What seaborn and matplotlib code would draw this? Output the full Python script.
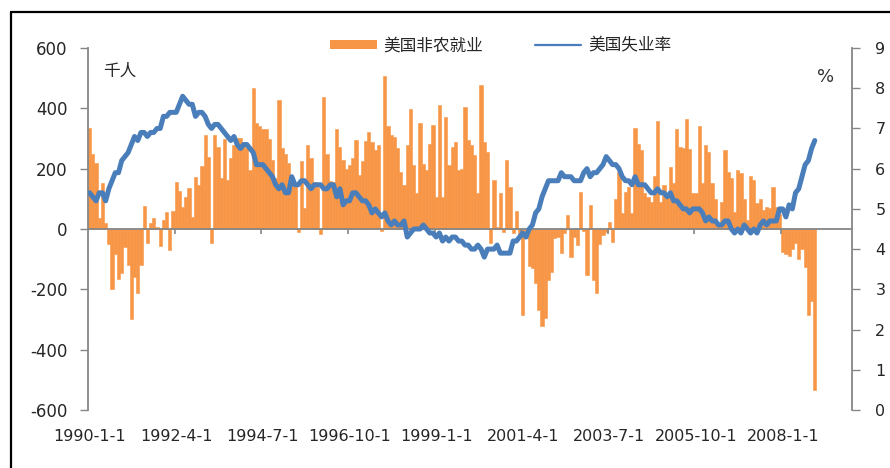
import numpy as np
import pandas as pd
import matplotlib
matplotlib.use('Agg')
import matplotlib.pyplot as plt
import seaborn as sns
from matplotlib.lines import Line2D
from matplotlib.patches import Patch

# 美国非农就业 (千人), monthly change, 1990-01 .. 2008-11
payroll_1990 = [335, 250, 218, 36, 152, 20, -50, -200, -83, -165, -145, -60]
payroll_1991 = [-120, -298, -158, -212, -120, 77, -47, 20, 35, 8, -58, 30]
payroll_1992 = [55, -70, 60, 157, 127, 73, 105, 135, 40, 173, 146, 210]
payroll_1993 = [313, 238, -45, 311, 272, 168, 300, 164, 237, 278, 303, 303]
payroll_1994 = [290, 267, 195, 469, 352, 341, 330, 330, 300, 228, 168, 427]
payroll_1995 = [267, 250, 220, 162, 150, -10, 226, 68, 278, 234, 157, 140]
payroll_1996 = [-17, 437, 250, 160, 157, 330, 272, 228, 200, 212, 234, 295]
payroll_1997 = [179, 226, 292, 322, 289, 261, 278, -5, 506, 341, 311, 305]
payroll_1998 = [267, 190, 146, 278, 399, 212, 118, 352, 217, 195, 283, 344]
payroll_1999 = [107, 410, 107, 372, 212, 272, 289, 195, 200, 405, 295, 278]
payroll_2000 = [245, 118, 477, 289, 256, -47, 162, 5, 120, -9, 230, 140]
payroll_2001 = [-14, 60, -20, -285, -31, -124, -130, -180, -268, -323, -296, -168]
payroll_2002 = [-141, -30, -25, -80, -14, 46, -92, -25, -53, 122, -5, -152]
payroll_2003 = [79, -169, -213, -50, -20, -10, 24, -42, 99, 188, 52, 124]
payroll_2004 = [138, 52, 336, 283, 261, 120, 107, 90, 175, 358, 90, 146]
payroll_2005 = [112, 206, 151, 333, 272, 267, 366, 266, 118, 120, 340, 151]
payroll_2006 = [278, 256, 151, 100, 20, 90, 261, 190, 168, 57, 197, 184]
payroll_2007 = [101, 30, 175, 162, 85, 101, 63, 74, 68, 140, 74, 50]
payroll_2008 = [-76, -83, -88, -67, -47, -100, -67, -127, -284, -240, -533]

# 美国失业率 (%)
unemp_1990 = [5.4, 5.3, 5.2, 5.4, 5.4, 5.2, 5.5, 5.7, 5.9, 5.9, 6.2, 6.3]
unemp_1991 = [6.4, 6.6, 6.8, 6.7, 6.9, 6.9, 6.8, 6.9, 6.9, 7.0, 7.0, 7.3]
unemp_1992 = [7.3, 7.4, 7.4, 7.4, 7.6, 7.8, 7.7, 7.6, 7.6, 7.3, 7.4, 7.4]
unemp_1993 = [7.3, 7.1, 7.0, 7.1, 7.1, 7.0, 6.9, 6.8, 6.7, 6.8, 6.6, 6.5]
unemp_1994 = [6.6, 6.6, 6.5, 6.4, 6.1, 6.1, 6.1, 6.0, 5.9, 5.8, 5.6, 5.5]
unemp_1995 = [5.6, 5.4, 5.4, 5.8, 5.6, 5.6, 5.7, 5.7, 5.6, 5.5, 5.6, 5.6]
unemp_1996 = [5.6, 5.5, 5.5, 5.6, 5.6, 5.3, 5.5, 5.1, 5.2, 5.2, 5.4, 5.4]
unemp_1997 = [5.3, 5.2, 5.2, 5.1, 4.9, 5.0, 4.9, 4.8, 4.9, 4.7, 4.6, 4.7]
unemp_1998 = [4.6, 4.6, 4.7, 4.3, 4.4, 4.5, 4.5, 4.5, 4.6, 4.5, 4.4, 4.4]
unemp_1999 = [4.3, 4.4, 4.2, 4.3, 4.2, 4.3, 4.3, 4.2, 4.2, 4.1, 4.1, 4.0]
unemp_2000 = [4.0, 4.1, 4.0, 3.8, 4.0, 4.0, 4.0, 4.1, 3.9, 3.9, 3.9, 3.9]
unemp_2001 = [4.2, 4.2, 4.3, 4.4, 4.3, 4.5, 4.6, 4.9, 5.0, 5.3, 5.5, 5.7]
unemp_2002 = [5.7, 5.7, 5.7, 5.9, 5.8, 5.8, 5.8, 5.7, 5.7, 5.7, 5.9, 6.0]
unemp_2003 = [5.8, 5.9, 5.9, 6.0, 6.1, 6.3, 6.2, 6.1, 6.1, 6.0, 5.8, 5.7]
unemp_2004 = [5.7, 5.6, 5.8, 5.6, 5.6, 5.6, 5.5, 5.4, 5.4, 5.5, 5.4, 5.4]
unemp_2005 = [5.3, 5.4, 5.2, 5.2, 5.1, 5.0, 5.0, 4.9, 5.0, 5.0, 5.0, 4.9]
unemp_2006 = [4.7, 4.8, 4.7, 4.7, 4.6, 4.6, 4.7, 4.7, 4.5, 4.4, 4.5, 4.4]
unemp_2007 = [4.6, 4.5, 4.4, 4.5, 4.4, 4.6, 4.7, 4.6, 4.7, 4.7, 4.7, 5.0]
unemp_2008 = [5.0, 4.8, 5.1, 5.0, 5.4, 5.5, 5.8, 6.1, 6.2, 6.5, 6.7]

tick_labels = ['1990-1-1', '1992-4-1', '1994-7-1', '1996-10-1', '1999-1-1',
               '2001-4-1', '2003-7-1', '2005-10-1', '2008-1-1']
tick_step = 27
legend_labels = ['美国非农就业', '美国失业率']

payroll = (payroll_1990 + payroll_1991 + payroll_1992 + payroll_1993 + payroll_1994 +
           payroll_1995 + payroll_1996 + payroll_1997 + payroll_1998 + payroll_1999 +
           payroll_2000 + payroll_2001 + payroll_2002 + payroll_2003 + payroll_2004 +
           payroll_2005 + payroll_2006 + payroll_2007 + payroll_2008)
unemp = (unemp_1990 + unemp_1991 + unemp_1992 + unemp_1993 + unemp_1994 +
         unemp_1995 + unemp_1996 + unemp_1997 + unemp_1998 + unemp_1999 +
         unemp_2000 + unemp_2001 + unemp_2002 + unemp_2003 + unemp_2004 +
         unemp_2005 + unemp_2006 + unemp_2007 + unemp_2008)

df = pd.DataFrame({'month': np.arange(len(payroll)), 'payroll': payroll, 'unemp': unemp})

ORANGE = '#F79646'
BLUE = '#4A7EBB'
GREY = '#868686'
CJK = ['Noto Sans CJK SC', 'DejaVu Sans']

sns.set_style('white')
plt.rcParams['font.family'] = ['DejaVu Sans', 'Noto Sans CJK SC']
plt.rcParams['axes.unicode_minus'] = False

W, H = 890, 468
fig = plt.figure(figsize=(W / 100, H / 100), dpi=100)
ax = fig.add_axes([88 / W, 1 - 410 / H, (852 - 88) / W, (410 - 48) / H])

sns.barplot(data=df, x='month', y='payroll', color=ORANGE, saturation=1,
            width=1.0, errorbar=None, edgecolor=ORANGE, linewidth=0.4, ax=ax)
ax2 = ax.twinx()
sns.lineplot(data=df, x='month', y='unemp', color=BLUE, lw=3.6, ax=ax2)

ax.set_xlim(-0.5, 237.6)
ax.set_ylim(-600, 600)
ax2.set_ylim(0, 9)
ax.set_xlabel('')
ax.set_ylabel('')
ax2.set_xlabel('')
ax2.set_ylabel('')

# zero axis line with Excel-like tick marks between categories
ax.axhline(0, color=GREY, lw=1.3, zorder=3)
ticks_between = [tick_step * k - 0.5 for k in range(1, len(tick_labels))]
ax.vlines(ticks_between, 0, -16, color=GREY, lw=1.2, zorder=3)

ax.set_xticks(np.arange(len(tick_labels)) * tick_step)
ax.set_xticklabels(tick_labels, fontsize=11.5)
ax.tick_params(axis='x', length=0, pad=14)

ax.set_yticks(range(-600, 601, 200))
ax.tick_params(axis='y', length=5.8, width=1, color=GREY, pad=9, labelsize=12)
ax2.set_yticks(range(0, 10))
ax2.tick_params(axis='y', length=5.8, width=1, color=GREY, pad=11, labelsize=11.5)

for a in (ax, ax2):
    for s in a.spines.values():
        s.set_visible(False)
ax.spines['left'].set_visible(True)
ax.spines['left'].set_color(GREY)
ax.spines['left'].set_linewidth(1.3)
ax2.spines['right'].set_visible(True)
ax2.spines['right'].set_color(GREY)
ax2.spines['right'].set_linewidth(1.3)

fig.text(103 / W, 1 - 71 / H, '千人', fontsize=12, family=CJK, va='center')
fig.text(817 / W, 1 - 77 / H, '%', fontsize=13, va='center', color='#333333')

handles = [Patch(facecolor=ORANGE, edgecolor='none'), Line2D([], [], color=BLUE, lw=1.6)]
fig.legend(handles, legend_labels, loc='center left', bbox_to_anchor=(330 / W, 1 - 46 / H),
           ncol=2, frameon=False, prop={'family': CJK, 'size': 12},
           handlelength=2.8, handleheight=0.5, handletextpad=0.4,
           columnspacing=3.1, borderpad=0, borderaxespad=0)

# outer frame (left and top edges are visible in the picture)
fig.add_artist(Line2D([11 / W, 11 / W], [0, 1 - 12 / H], color='black', lw=1.6,
                      transform=fig.transFigure))
fig.add_artist(Line2D([11 / W, 1], [1 - 12 / H, 1 - 12 / H], color='black', lw=1.6,
                      transform=fig.transFigure))

fig.savefig('out.png', dpi=100)
